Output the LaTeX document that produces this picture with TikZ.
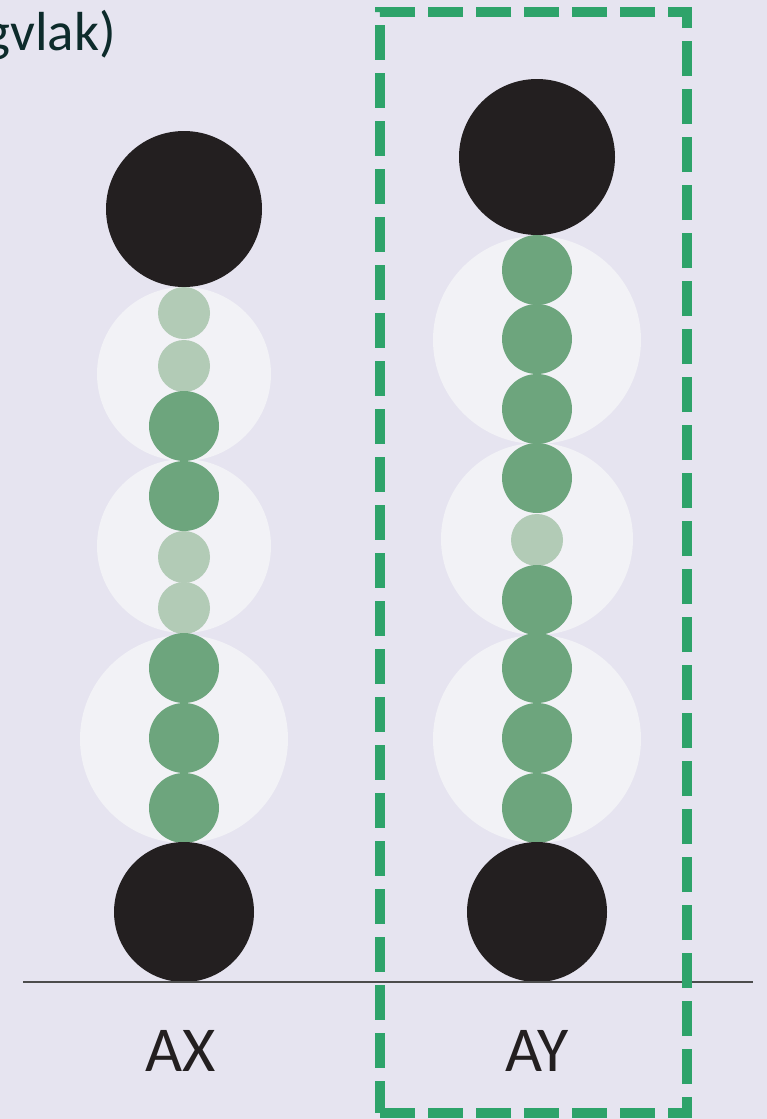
\documentclass[tikz,border=0pt]{standalone}
\usepackage{fontspec}
\setmainfont{Carlito}
\usetikzlibrary{positioning}
\begin{document}
\begin{tikzpicture}[x=1pt,y=-1pt]
%
\useasboundingbox (0,0) rectangle (767,1119);
%
\definecolor{cbg}{HTML}{E6E4F0}
\definecolor{cshell}{HTML}{F2F2F6}
\definecolor{cpale}{HTML}{B2CBB6}
\definecolor{cdark}{HTML}{6DA57D}
\definecolor{cpole}{HTML}{231F20}
\definecolor{cbox}{HTML}{2EA36A}
\definecolor{ctext}{HTML}{0D2B2B}
%
\tikzset{
  shell/.style={circle,inner sep=0pt,fill=cshell,minimum size=#1},
  pale/.style={circle,inner sep=0pt,fill=cpale,minimum size=52},
  dark/.style={circle,inner sep=0pt,fill=cdark,minimum size=70},
  pole/.style={circle,inner sep=0pt,fill=cpole,minimum size=#1},
  label/.style={inner sep=0pt,text=cpole,font=\fontsize{64}{64}\selectfont}
}
%
\fill[cbg] (0,0) rectangle (767,1119);
%
\node[anchor=base east,inner sep=0pt,text=ctext,font=\fontsize{55}{55}\selectfont] (title) at (116,50) {gvlak)};
%
% AX
\node[shell=174] (axs1) at (184,374) {};
\node[shell=174] (axs2) at (184,546) {};
\node[shell=208] (axs3) at (184,739) {};
\node[pale] (ax1) at (184,313) {};
\node[pale] (ax2) at (184,366) {};
\node[dark] (ax3) at (184,426) {};
\node[dark] (ax4) at (184,496) {};
\node[pale] (ax5) at (184,557) {};
\node[pale] (ax6) at (184,608) {};
\node[dark] (ax7) at (184,668) {};
\node[dark] (ax8) at (184,738) {};
\node[dark] (ax9) at (184,808) {};
\node[pole=156] (axtop) at (184,209) {};
\node[pole=140] (axbot) at (184,912) {};
%
% AY
\node[shell=208] (ays1) at (537,340) {};
\node[shell=192] (ays2) at (537,539) {};
\node[shell=208] (ays3) at (537,739) {};
\node[dark] (ay1) at (537,270) {};
\node[dark] (ay2) at (537,339) {};
\node[dark] (ay3) at (537,409) {};
\node[dark] (ay4) at (537,478) {};
\node[pale] (ay5) at (537,540) {};
\node[dark] (ay6) at (537,600) {};
\node[dark] (ay7) at (537,668) {};
\node[dark] (ay8) at (537,738) {};
\node[dark] (ay9) at (537,808) {};
\node[pole=156] (aytop) at (537,157) {};
\node[pole=140] (aybot) at (537,912) {};
%
\coordinate (gl) at (23,982);
\coordinate (gr) at (753,982);
\draw[line width=1.2,color=black!70] (gl) -- (gr);
%
\node[label,anchor=base] (axl) at (181,1071) {AX};
\node[label,anchor=base] (ayl) at (537,1071) {AY};
%
\node[draw=cbox,line width=10,dash pattern=on 35 off 13,inner sep=0pt,
  minimum width=307,minimum height=1101] (ybox) at (533.5,562.5) {};
%
\end{tikzpicture}
\end{document}
